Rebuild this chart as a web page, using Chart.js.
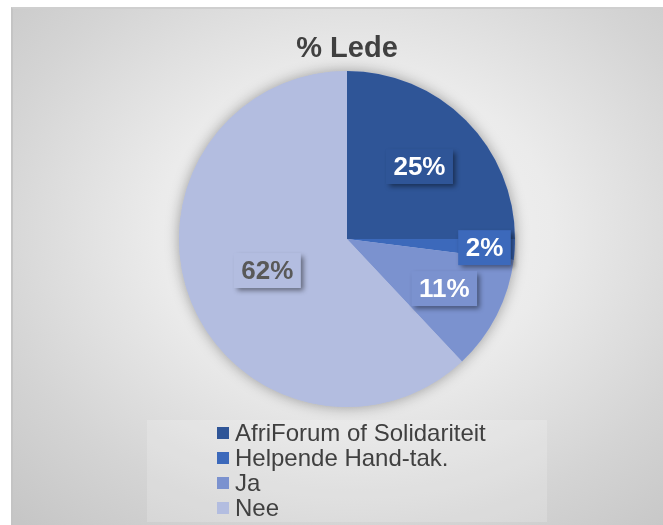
<!DOCTYPE html>
<html>
<head>
<meta charset="utf-8">
<script src="https://cdn.jsdelivr.net/npm/chart.js@4/dist/chart.umd.min.js"></script>
<style>
  html, body { margin: 0; padding: 0; background: #ffffff; width: 663px; height: 525px; overflow: hidden; }
  #frame {
    position: absolute; left: 11px; top: 7px; width: 660px; height: 530px;
    border-left: 2px solid #c4c4c4; border-top: 2px solid #cfcfcf;
    box-sizing: border-box;
    background: radial-gradient(ellipse 75% 75% at 52% 42%, #f6f6f6 0%, #ebebeb 40%, #d4d4d4 75%, #c6c6c6 100%);
  }
  #c { position: absolute; left: 11px; top: 7px; }
  #legendBg { position: absolute; left: 147px; top: 420px; width: 400px; height: 102px; background: rgba(255,255,255,0.18); }
  #legend { position: absolute; left: 217px; top: 420px; font-family: "Liberation Sans", Arial, sans-serif; font-size: 24px; color: #404040; }
  .item { height: 25px; line-height: 25px; display: flex; align-items: center; white-space: nowrap; }
  .sw { width: 12px; height: 12px; margin-right: 6px; flex: none; }
</style>
</head>
<body>
<div id="frame"></div>
<div id="legendBg"></div>
<canvas id="c" width="652" height="518"></canvas>
<div id="legend"></div>
<script>
const categories = ['AfriForum of Solidariteit', 'Helpende Hand-tak.', 'Ja', 'Nee'];
const values = [25, 2, 11, 62];
const valueLabels = ['25%', '2%', '11%', '62%'];
const sliceColors = ['#2f5597', '#3c69bb', '#7b92cf', '#b3bde0'];
const labelTextColors = ['#ffffff', '#ffffff', '#ffffff', '#595959'];
const titleText = '% Lede';

const pieShadow = {
  id: 'pieShadow',
  beforeDatasetsDraw(chart) {
    const arc = chart.getDatasetMeta(0).data[0];
    if (!arc) return;
    const ctx = chart.ctx;
    ctx.save();
    ctx.shadowColor = 'rgba(0,0,0,0.35)';
    ctx.shadowBlur = 14;
    ctx.fillStyle = sliceColors[3];
    ctx.beginPath();
    ctx.arc(arc.x, arc.y, arc.outerRadius, 0, Math.PI * 2);
    ctx.fill();
    ctx.restore();
  }
};

const boxLabels = {
  id: 'boxLabels',
  afterDatasetsDraw(chart, args, opts) {
    const ctx = chart.ctx;
    const meta = chart.getDatasetMeta(0);
    meta.data.forEach((arc, i) => {
      const mid = (arc.startAngle + arc.endAngle) / 2;
      const r = arc.outerRadius * opts.radii[i];
      const x = arc.x + Math.cos(mid) * r;
      const y = arc.y + Math.sin(mid) * r;
      ctx.save();
      ctx.font = 'bold 26px "Liberation Sans", Arial, sans-serif';
      const w = ctx.measureText(valueLabels[i]).width + 15;
      const h = 35;
      ctx.shadowColor = 'rgba(0,0,0,0.45)';
      ctx.shadowBlur = 5;
      ctx.shadowOffsetX = 3;
      ctx.shadowOffsetY = 3;
      ctx.fillStyle = sliceColors[i];
      ctx.fillRect(x - w / 2, y - h / 2, w, h);
      ctx.restore();
      ctx.save();
      ctx.font = 'bold 26px "Liberation Sans", Arial, sans-serif';
      ctx.fillStyle = labelTextColors[i];
      ctx.textAlign = 'center';
      ctx.textBaseline = 'middle';
      ctx.fillText(valueLabels[i], x, y + 1);
      ctx.restore();
    });
  }
};

new Chart(document.getElementById('c'), {
  type: 'pie',
  data: {
    labels: categories,
    datasets: [{
      data: values,
      backgroundColor: sliceColors,
      borderWidth: 0,
      hoverOffset: 0
    }]
  },
  options: {
    responsive: false,
    animation: false,
    layout: { padding: { left: 20, right: 0, top: 0, bottom: 118 } },
    plugins: {
      legend: { display: false },
      tooltip: { enabled: false },
      title: {
        display: true,
        text: titleText,
        color: '#404040',
        font: { family: '"Liberation Sans", Arial, sans-serif', size: 29, weight: 'bold', lineHeight: 1.2 },
        padding: { top: 25, bottom: 4.2 }
      },
      boxLabels: { radii: [0.61, 0.82, 0.65, 0.51] }
    }
  },
  plugins: [pieShadow, boxLabels]
});

const legend = document.getElementById('legend');
categories.forEach((c, i) => {
  const row = document.createElement('div');
  row.className = 'item';
  const sw = document.createElement('span');
  sw.className = 'sw';
  sw.style.background = sliceColors[i];
  const t = document.createElement('span');
  t.textContent = c;
  row.appendChild(sw);
  row.appendChild(t);
  legend.appendChild(row);
});
</script>
</body>
</html>
